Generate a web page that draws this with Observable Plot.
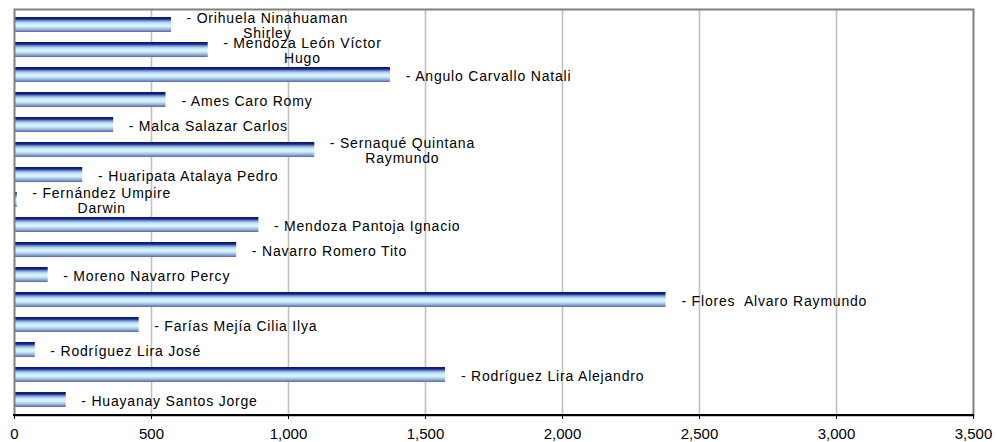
<!DOCTYPE html>
<html>
<head>
<meta charset="utf-8">
<script src="https://cdn.jsdelivr.net/npm/d3@7"></script>
<script src="https://cdn.jsdelivr.net/npm/@observablehq/plot@0.6"></script>
<style>
  html, body { margin: 0; padding: 0; background: #fff; }
  #chart svg g[aria-label="text"] text { letter-spacing: 0.8px; }
</style>
</head>
<body>
<div id="chart"></div>
<script>
const names = [
  "Orihuela Ninahuaman Shirley", "Mendoza León Víctor Hugo", "Angulo Carvallo Natali",
  "Ames Caro Romy", "Malca Salazar Carlos", "Sernaqué Quintana Raymundo",
  "Huaripata Atalaya Pedro", "Fernández Umpire Darwin", "Mendoza Pantoja Ignacio",
  "Navarro Romero Tito", "Moreno Navarro Percy", "Flores  Alvaro Raymundo",
  "Farías Mejía Cilia Ilya", "Rodríguez Lira José", "Rodríguez Lira Alejandro",
  "Huayanay Santos Jorge"
];
const labels = [
  "- Orihuela Ninahuaman\nShirley", "- Mendoza León Víctor\nHugo", "- Angulo Carvallo Natali",
  "- Ames Caro Romy", "- Malca Salazar Carlos", "- Sernaqué Quintana\nRaymundo",
  "- Huaripata Atalaya Pedro", "- Fernández Umpire\nDarwin", "- Mendoza Pantoja Ignacio",
  "- Navarro Romero Tito", "- Moreno Navarro Percy", "- Flores  Alvaro Raymundo",
  "- Farías Mejía Cilia Ilya", "- Rodríguez Lira José", "- Rodríguez Lira Alejandro",
  "- Huayanay Santos Jorge"
];
const values = [573, 707, 1372, 553, 362, 1096, 249, 10, 892, 811, 123, 2378, 455, 76, 1573, 189];
const xTicks = [0, 500, 1000, 1500, 2000, 2500, 3000, 3500];
const gridTicks = [500, 1000, 1500, 2000, 2500, 3000];

const W = 997, H = 442;
const M = {left: 14, right: 24, top: 9, bottom: 27};
const xMax = 3500;
const k = (W - M.left - M.right) / xMax; // px per unit
const labelFont = 14, spacing = 0.8, gapPx = 15;

const ctx = document.createElement("canvas").getContext("2d");
ctx.font = `${labelFont}px 'Liberation Sans', Arial, sans-serif`;
function textWidth(s) {
  return d3.max(s.split("\n"), line => ctx.measureText(line).width + line.length * spacing);
}

const data = names.map((name, i) => ({
  name, label: labels[i], value: values[i], w: textWidth(labels[i])
}));

const defs = () => {
  const svgDefs = d3.create("svg:defs");
  const g = svgDefs.append("linearGradient")
    .attr("id", "barGrad").attr("x1", 0).attr("y1", 0).attr("x2", 0).attr("y2", 1);
  [
    [0, "#0a1470"], [0.14, "#132888"], [0.24, "#6a88c8"], [0.34, "#a8c8ec"],
    [0.46, "#cfeefa"], [0.62, "#d8f4fd"], [0.75, "#b0cfec"], [0.87, "#8ba3d4"], [1, "#56679f"]
  ].forEach(([o, c]) => g.append("stop").attr("offset", o).attr("stop-color", c));
  return svgDefs.node();
};

function bottomLine(index, scales, values, dims) {
  const y = dims.height - dims.marginBottom;
  const g = d3.create("svg:g");
  g.append("line")
    .attr("x1", scales.x(0) - 1).attr("x2", scales.x(xMax) + 1)
    .attr("y1", y).attr("y2", y)
    .attr("stroke", "#000").attr("stroke-width", 2);
  return g.node();
}

const chart = Plot.plot({
  width: W, height: H,
  marginLeft: M.left, marginRight: M.right, marginTop: M.top, marginBottom: M.bottom,
  style: {fontFamily: "'Liberation Sans', Arial, sans-serif", background: "#fff", color: "#000"},
  x: {domain: [0, xMax], axis: null},
  y: {domain: names, axis: null, paddingInner: 0.42, paddingOuter: 0.21},
  marks: [
    defs,
    Plot.gridX({ticks: gridTicks, stroke: "#c0c0c0", strokeOpacity: 1, strokeWidth: 1.6}),
    Plot.barX(data, {x1: 0, x2: "value", y: "name", fill: "url(#barGrad)"}),
    Plot.frame({stroke: "#808080", strokeWidth: 2}),
    bottomLine,
    Plot.axisX({
      ticks: xTicks, tickFormat: d3.format(","), tickSize: 4, tickPadding: 9,
      fontSize: 15, stroke: "#000", fill: "#000", label: null
    }),
    Plot.text(data, {
      x: d => d.value + (gapPx + d.w / 2) / k,
      y: "name", text: "label",
      textAnchor: "middle", lineAnchor: "middle", lineHeight: 1.05, dy: 1,
      fontSize: labelFont, fill: "#000"
    })
  ]
});
document.getElementById("chart").appendChild(chart);
</script>
</body>
</html>
